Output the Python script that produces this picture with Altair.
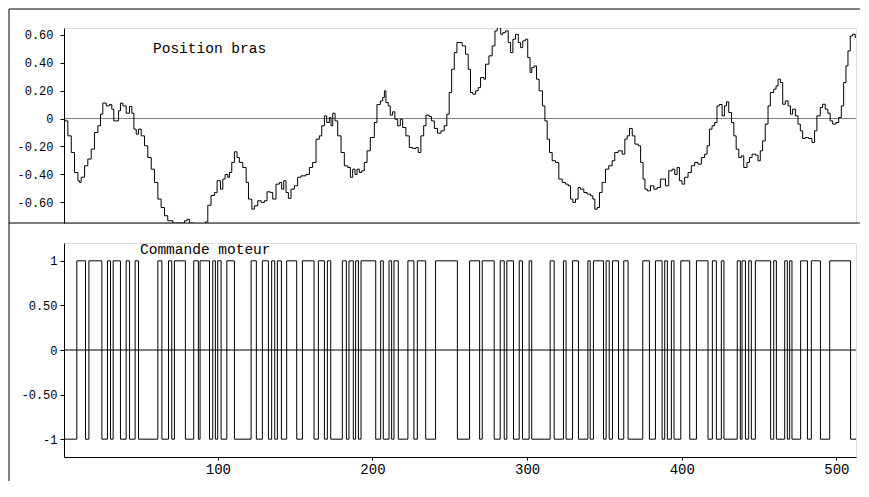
import altair as alt
import pandas as pd

# ---------------- data ----------------
# Position bras: sample index and value
pos_k = [0.5, 1, 3, 5.2, 7.3, 9.5, 10.5, 11.6, 13.8, 15.9, 18.1, 20.2, 22.4, 24.1, 25.6, 27.8, 29.9, 31.4, 32.7,
         34.2, 35.8, 37.0, 38.6, 40.7, 42.9, 44.4, 45.7, 47.2, 48.7, 50.4, 52.6, 54.7, 56.9, 59.0, 61.2, 63.3,
         65.5, 67.6, 70.9, 74.1, 78.4, 80.1, 81.6, 84.9, 89.2, 91.8, 93.5, 95.6, 97.8, 99.5, 101.7, 103.2, 104.7,
         106.4, 107.5, 109.0, 110.7, 112.4, 113.9, 116.1, 118.3, 119.8, 122.0, 123.6, 125.8, 128.0, 130.1, 131.8,
         134.0, 135.5, 137.6, 139.8, 141.3, 142.6, 144.1, 145.6, 147.3, 149.5, 151.6, 153.8, 157.0, 159.2, 161.3,
         163.5, 165.6, 167.2, 168.9, 170.4, 172.1, 173.2, 174.3, 175.8, 177.5, 179.7, 181.8, 184.0, 185.7, 187.2,
         188.7, 190.0, 191.5, 193.0, 194.7, 196.5, 198.6, 201.2, 202.9, 205.1, 206.6, 207.7, 208.7, 210.2, 211.5,
         213.0, 214.5, 216.3, 218.0, 219.5, 221.6, 223.8, 226.0, 228.1, 229.6, 231.3, 233.1, 234.6, 236.7, 238.2,
         240.0, 242.1, 244.3, 246.4, 248.1, 249.6, 251.2, 252.9, 254.6, 256.1, 258.0, 260.2, 261.9, 263.4, 264.9,
         266.7, 268.4, 269.9, 272.1, 273.1, 275.3, 277.4, 279.2, 280.7, 282.9, 284.3, 286.0, 287.8, 289.3, 290.8,
         292.5, 294.3, 295.8, 297.2, 298.9, 300.4, 301.9, 303.0, 304.5, 306.1, 307.8, 309.9, 311.5, 313.0, 314.5,
         316.2, 318.4, 320.5, 322.7, 324.8, 326.6, 328.1, 329.6, 331.3, 333.0, 334.5, 336.7, 338.8, 341.0, 342.5,
         343.8, 345.3, 346.8, 348.5, 350.7, 352.8, 355.0, 356.7, 358.9, 361.5, 363.2, 364.7, 366.2, 368.0, 369.7,
         371.9, 373.4, 375.0, 376.2, 377.7, 379.8, 382.0, 384.1, 386.2, 387.8, 389.5, 391.6, 393.8, 395.5, 397.0,
         398.5, 400.2, 401.9, 404.1, 406.2, 408.4, 410.5, 412.7, 414.8, 416.4, 417.9, 419.6, 421.3, 422.8, 424.3,
         426.1, 427.6, 428.9, 430.4, 432.2, 433.7, 435.2, 436.9, 438.6, 440.1, 442.2, 443.8, 445.5, 447.7, 449.3,
         450.8, 452.3, 454.0, 455.8, 457.3, 459.5, 461.0, 462.3, 463.8, 465.3, 467.0, 468.8, 470.3, 471.7, 473.5,
         475.2, 476.7, 478.2, 479.9, 482.1, 484.2, 485.9, 487.4, 489.6, 491.1, 492.8, 494.5, 496.0, 497.6, 499.7,
         501.5, 503.2, 504.7, 506.2, 507.5, 509.0, 510.5, 512.2, 512.7]
pos_v = [0.0, -0.017, -0.124, -0.243, -0.386, -0.445, -0.457, -0.42, -0.338, -0.29, -0.219, -0.10, -0.052, 0.031,
         0.11, 0.09, 0.10, 0.067, -0.017, -0.017, 0.055, 0.11, 0.09, 0.038, 0.086, 0.038, -0.076, -0.112, -0.076,
         -0.124, -0.195, -0.279, -0.362, -0.457, -0.576, -0.636, -0.695, -0.731, -0.748, -0.748, -0.731, -0.72,
         -0.748, -0.77, -0.77, -0.74, -0.62, -0.55, -0.53, -0.445, -0.505, -0.433, -0.40, -0.42, -0.386, -0.314,
         -0.238, -0.279, -0.314, -0.35, -0.457, -0.576, -0.648, -0.624, -0.588, -0.60, -0.588, -0.524, -0.529,
         -0.576, -0.469, -0.457, -0.505, -0.445, -0.529, -0.571, -0.505, -0.481, -0.42, -0.41, -0.40, -0.35,
         -0.314, -0.148, -0.124, -0.052, 0.019, -0.029, 0.007, -0.052, 0.038, -0.017, -0.124, -0.243, -0.338,
         -0.35, -0.42, -0.362, -0.40, -0.362, -0.386, -0.374, -0.314, -0.231, -0.136, -0.029, 0.10, 0.126, 0.15,
         0.198, 0.114, 0.09, 0.024, 0.048, -0.005, -0.052, -0.005, -0.064, -0.124, -0.207, -0.214, -0.207,
         -0.243, -0.124, -0.052, 0.024, 0.014, -0.017, -0.071, -0.105, -0.088, -0.052, 0.031, 0.186, 0.352,
         0.471, 0.543, 0.543, 0.519, 0.46, 0.352, 0.186, 0.174, 0.198, 0.221, 0.293, 0.281, 0.388, 0.448, 0.519,
         0.626, 0.65, 0.602, 0.614, 0.626, 0.543, 0.471, 0.567, 0.602, 0.543, 0.507, 0.555, 0.567, 0.436, 0.329,
         0.364, 0.376, 0.281, 0.198, 0.09, -0.017, -0.148, -0.243, -0.302, -0.314, -0.433, -0.457, -0.469,
         -0.481, -0.576, -0.60, -0.576, -0.493, -0.505, -0.529, -0.54, -0.552, -0.576, -0.648, -0.636, -0.529,
         -0.457, -0.362, -0.338, -0.302, -0.243, -0.231, -0.255, -0.148, -0.124, -0.071, -0.124, -0.183, -0.195,
         -0.314, -0.433, -0.505, -0.517, -0.481, -0.505, -0.493, -0.433, -0.433, -0.481, -0.374, -0.362, -0.40,
         -0.35, -0.445, -0.469, -0.42, -0.386, -0.338, -0.314, -0.326, -0.279, -0.255, -0.195, -0.076, -0.052,
         -0.029, 0.09, 0.10, 0.019, 0.09, 0.119, 0.043, -0.029, -0.124, -0.219, -0.279, -0.267, -0.35, -0.314,
         -0.279, -0.255, -0.262, -0.302, -0.231, -0.16, -0.04, 0.09, 0.186, 0.21, 0.233, 0.281, 0.257, 0.102,
         0.126, 0.09, 0.031, 0.067, 0.019, -0.04, -0.088, -0.143, -0.136, -0.143, -0.171, -0.088, 0.019, 0.079,
         0.102, 0.067, 0.038, -0.017, -0.04, -0.029, 0.007, 0.09, 0.257, 0.376, 0.483, 0.59, 0.602, 0.579, 0.579]

# Commande moteur: intervals (sample index) where the command is +1, otherwise -1
high_start = [8.8, 16.6, 28.6, 32.3, 40.7, 46.5, 61.2, 68.1, 71.9, 84.4, 88.5, 96.7, 99.9, 105.8, 121.5,
              128.8, 134.8, 138.5, 144.5, 154.7, 165.0, 170.8, 180.5, 184.8, 189.1, 192.6, 205.3, 210.7, 213.9,
              222.9, 229.0, 240.8, 262.8, 271.0, 282.6, 286.9, 294.9, 301.3, 314.9, 323.5, 329.4, 339.3, 342.9,
              351.1, 355.2, 362.5, 374.8, 383.0, 389.0, 393.3, 399.4, 409.5, 419.8, 425.6, 435.9, 439.0, 443.3,
              447.6, 459.5, 466.6, 469.8, 476.9, 483.8, 495.7]
high_end = [14.4, 25.0, 30.6, 37.0, 42.9, 48.7, 63.8, 70.2, 79.0, 87.4, 94.6, 98.4, 102.1, 110.7, 124.9,
            132.7, 136.8, 141.1, 151.0, 162.2, 168.9, 173.0, 183.1, 187.6, 190.9, 202.1, 207.0, 212.4, 216.7,
            226.8, 234.4, 254.9, 269.3, 278.7, 285.2, 291.2, 297.0, 303.0, 317.5, 325.2, 333.2, 340.8, 349.4,
            353.1, 359.1, 365.3, 379.1, 387.3, 390.7, 395.0, 405.2, 417.0, 422.4, 427.3, 437.9, 441.2, 445.0,
            457.5, 461.2, 468.3, 471.3, 481.3, 489.7, 509.2]

x_start, x_end = 0.5, 512.7

# ---------------- tables ----------------
pos_df = pd.DataFrame({"k": pos_k, "v": pos_v})
cmd_k = [x_start]
cmd_v = [-1]
for a, b in zip(high_start, high_end):
    cmd_k += [a, b]
    cmd_v += [1, -1]
cmd_k.append(x_end)
cmd_v.append(-1)
cmd_df = pd.DataFrame({"k": cmd_k, "v": cmd_v})
one = pd.DataFrame({"a": [0]})

W = 792
H1 = 195
H2 = 214
FONT = "Liberation Mono"
RIGHT = 796   # right end of the outer frame lines (plot coordinates)

xscale = alt.Scale(domain=[x_start, x_end], nice=False, zero=False)
yscale_top = alt.Scale(domain=[-0.747, 0.647], nice=False, zero=False)
yscale_bot = alt.Scale(domain=[-1.2, 1.2], nice=False, zero=False)

top_axis = alt.Axis(values=[-0.6, -0.4, -0.2, 0, 0.2, 0.4, 0.6], title=None, grid=False,
                    labelExpr="datum.value == 0 ? '0' : (datum.value < 0 ? '-' + format(-datum.value, '.2f') : format(datum.value, '.2f'))",
                    tickSize=4, labelPadding=7, labelFont=FONT, labelFontSize=12, labelColor="black",
                    domainColor="black", tickColor="black")
bot_axis = alt.Axis(values=[-1, -0.5, 0, 0.5, 1], title=None, grid=False,
                    labelExpr="datum.value == 0 ? '0' : (datum.value == 1 ? '1' : (datum.value == -1 ? '-1' : (datum.value < 0 ? '-' + format(-datum.value, '.2f') : format(datum.value, '.2f'))))",
                    tickSize=4, labelPadding=3, labelFont=FONT, labelFontSize=12, labelColor="black",
                    domainColor="black", tickColor="black")
x_axis = alt.Axis(values=[100, 200, 300, 400, 500], title=None, grid=False, format="d",
                  tickSize=3, labelPadding=2, labelFont=FONT, labelFontSize=14, labelColor="black",
                  domainColor="black", tickColor="black")

# ---------------- top panel ----------------
top_zero = alt.Chart(one).mark_rule(color="#808080", strokeWidth=1).encode(
    y=alt.datum(0, scale=yscale_top, axis=top_axis))
top_line = alt.Chart(pos_df).mark_line(color="black", strokeWidth=1, interpolate="step-after", clip=True).encode(
    x=alt.X("k:Q", scale=xscale, axis=None),
    y=alt.Y("v:Q", scale=yscale_top, axis=top_axis))
top_text = alt.Chart(one).mark_text(text="Position bras", font=FONT, fontSize=14.5, align="left",
                                    baseline="middle", color="black").encode(
    x=alt.value(89), y=alt.value(21))
frame_top = alt.Chart(one).mark_rule(color="black", strokeWidth=1).encode(
    x=alt.value(-55), x2=alt.value(RIGHT), y=alt.value(-19))
frame_left1 = alt.Chart(one).mark_rule(color="black", strokeWidth=1).encode(
    x=alt.value(-55), y=alt.value(-19), y2=alt.value(H1))
frame_mid = alt.Chart(one).mark_rule(color="black", strokeWidth=1).encode(
    x=alt.value(-55), x2=alt.value(RIGHT), y=alt.value(H1))

top = alt.layer(top_zero, top_line, top_text, frame_top, frame_left1, frame_mid).properties(width=W, height=H1)

# ---------------- bottom panel ----------------
bot_zero = alt.Chart(one).mark_rule(color="black", strokeWidth=1).encode(
    y=alt.datum(0, scale=yscale_bot, axis=bot_axis))
bot_line = alt.Chart(cmd_df).mark_line(color="black", strokeWidth=1, interpolate="step-after").encode(
    x=alt.X("k:Q", scale=xscale, axis=x_axis),
    y=alt.Y("v:Q", scale=yscale_bot, axis=bot_axis))
bot_text = alt.Chart(one).mark_text(text="Commande moteur", font=FONT, fontSize=14.5, align="left",
                                    baseline="middle", color="black").encode(
    x=alt.value(76), y=alt.value(7))
frame_left2 = alt.Chart(one).mark_rule(color="black", strokeWidth=1).encode(
    x=alt.value(-55), y=alt.value(-20), y2=alt.value(238))

bottom = alt.layer(bot_zero, bot_line, bot_text, frame_left2).properties(width=W, height=H2)

chart = alt.vconcat(top, bottom, spacing=20, bounds="flush", padding=0).configure_view(
    stroke="#707070", strokeWidth=1
).configure(background="white")

chart.save("out.html", embed_options={"renderer": "svg", "actions": False})
